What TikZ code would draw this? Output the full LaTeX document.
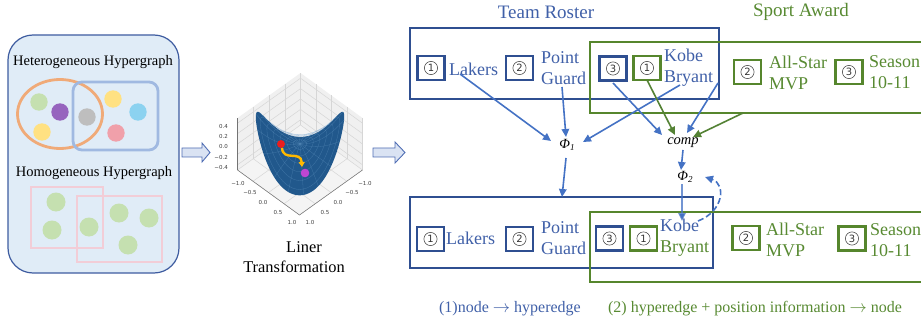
\documentclass[tikz,border=0pt]{standalone}
\usepackage{fontspec}
\setmainfont{Liberation Serif}
\newfontfamily\dvs{DejaVu Sans}
\usetikzlibrary{arrows.meta}
\definecolor{panelfill}{RGB}{224,236,247}
\definecolor{panelline}{RGB}{62,92,160}
\definecolor{tblue}{RGB}{64,96,168}
\definecolor{rblue}{RGB}{47,79,145}
\definecolor{tgreen}{RGB}{88,138,50}
\definecolor{rgreen}{RGB}{86,134,45}
\definecolor{ablue}{RGB}{68,114,196}
\definecolor{agreen}{RGB}{84,130,53}
\definecolor{orangeE}{RGB}{240,170,120}
\definecolor{blueE}{RGB}{160,185,225}
\definecolor{pinkE}{RGB}{242,205,215}
\definecolor{dgreen}{RGB}{197,224,176}
\definecolor{dpurple}{RGB}{150,100,190}
\definecolor{dyellow}{RGB}{255,225,130}
\definecolor{dgray}{RGB}{190,190,190}
\definecolor{dblue}{RGB}{140,210,240}
\definecolor{dpink}{RGB}{240,160,170}
\definecolor{arrfill}{RGB}{218,227,243}
\definecolor{arrline}{RGB}{80,110,180}
\definecolor{paneW}{RGB}{240,240,240}
\definecolor{paneF}{RGB}{244,244,244}
\definecolor{gridc}{RGB}{214,214,214}
\definecolor{surfc}{RGB}{33,88,140}
\definecolor{meshc}{RGB}{110,160,205}
\definecolor{trajc}{RGB}{255,185,0}
\definecolor{ptred}{RGB}{235,30,30}
\definecolor{ptpurple}{RGB}{190,70,210}
\pgfmathdeclarefunction{sz}{2}{\pgfmathparse{-(#1)*(#2)*(1.05-0.1*((#1)+(#2))*((#1)+(#2))-0.0707*((#1)+(#2)))}}
\newcommand\fHyp{\fontsize{14.5}{17}\selectfont}
\newcommand\fLin{\fontsize{16.4}{20}\selectfont}
\newcommand\fTit{\fontsize{19}{22}\selectfont}
\newcommand\fBot{\fontsize{16}{19}\selectfont}
\newcommand\fTick{\dvs\fontsize{5.5}{6}\selectfont}
\tikzset{
  numbox/.style={draw, line width=2.2pt, minimum width=27pt, minimum height=24pt, inner sep=0pt,
    font=\dvs\fontsize{10}{10}\selectfont, text=black!80,
    path picture={\draw[black!75, line width=0.55pt] (path picture bounding box.center) circle (6.6pt);}},
  bbx/.style={numbox, draw=rblue},
  gbx/.style={numbox, draw=rgreen},
  lbl/.style={anchor=west, inner sep=0pt, align=left, font=\fontsize{18}{21}\selectfont},
  bigrect/.style={draw, line width=2.2pt, inner sep=0pt},
  arr/.style={line width=1.6pt, -{Triangle[length=8pt,width=7.5pt]}},
  blockarrow/.style={fill=arrfill, draw=arrline, line width=0.9pt, line join=miter},
  gridl/.style={gridc, line width=0.5pt},
  meshl/.style={meshc, line width=0.3pt, opacity=0.4},
  tick/.style={font=\fTick, text=black!75, inner sep=0pt}
}
\begin{document}
\begin{tikzpicture}[x=1pt,y=-1pt]
\useasboundingbox (0,0) rectangle (921,326);
\clip (0,0) rectangle (921,326);

% ---------- left panel ----------
\draw[panelline, fill=panelfill, line width=1.2pt, rounded corners=25pt] (8,35) rectangle (179,273);
\node[font=\fHyp] (het) at (93,62) {Heterogeneous Hypergraph};
\draw[orangeE, line width=2.8pt] (60,114) ellipse [x radius=42.5, y radius=34.5];
\draw[blueE, line width=2.8pt, rounded corners=9pt] (73,82) rectangle (158,150);
\fill[dgreen]  (39,102) circle (8.7);
\fill[dpurple] (60,112) circle (8.7);
\fill[dyellow] (42,132) circle (8.7);
\fill[dgray]   (87,117) circle (8.7);
\fill[dyellow] (113,99) circle (8.7);
\fill[dblue]   (138,112) circle (8.7);
\fill[dpink]   (116,133) circle (8.7);
\node[font=\fHyp] (hom) at (94,173) {Homogeneous Hypergraph};
\draw[pinkE, line width=2.5pt] (31,187) rectangle (103,248);
\draw[pinkE, line width=2.5pt] (77,196) rectangle (162,262);
\fill[dgreen] (56,202) circle (9.5);
\fill[dgreen] (52,230) circle (9.5);
\fill[dgreen] (89,227) circle (9.5);
\fill[dgreen] (119,213) circle (9.5);
\fill[dgreen] (149,218) circle (9.5);
\fill[dgreen] (128,245) circle (9.5);

% ---------- block arrows ----------
\draw[blockarrow] (182,148) -- (202,148) -- (202,143) -- (210,152.5) -- (202,162) -- (202,157) -- (182,157) -- cycle;
\draw[blockarrow] (373,148) -- (395,148) -- (395,142) -- (405,152.5) -- (395,163) -- (395,157) -- (373,157) -- cycle;

% ---------- 3D plot ----------
\begin{scope}[shift={(300,144)}, x={(31pt,-22.5pt)}, y={(-31.5pt,-22.5pt)}, z={(0pt,52pt)}]
  \fill[paneW] (-1,1,-0.5) -- (-1,-1,-0.5) -- (-1,-1,0.5) -- (-1,1,0.5) -- cycle;
  \fill[paneW] (-1,-1,-0.5) -- (1,-1,-0.5) -- (1,-1,0.5) -- (-1,-1,0.5) -- cycle;
  \fill[paneF] (-1,-1,-0.5) -- (1,-1,-0.5) -- (1,1,-0.5) -- (-1,1,-0.5) -- cycle;
  \foreach \v in {-1,-0.5,0,0.5,1}{
    \draw[gridl] (-1,\v,-0.5) -- (-1,\v,0.5);
    \draw[gridl] (\v,-1,-0.5) -- (\v,-1,0.5);
    \draw[gridl] (\v,-1,-0.5) -- (\v,1,-0.5);
    \draw[gridl] (-1,\v,-0.5) -- (1,\v,-0.5);
  }
  \foreach \w in {-0.4,-0.2,0,0.2,0.4}{
    \draw[gridl] (-1,-1,\w) -- (-1,1,\w);
    \draw[gridl] (-1,-1,\w) -- (1,-1,\w);
  }
  \draw[black!55, line width=0.5pt] (-1,1,-0.5) -- (1,1,-0.5) -- (1,-1,-0.5);
  \draw[black!55, line width=0.5pt] (-1,1,-0.5) -- (-1,1,0.5);
  \fill[surfc] plot[domain=0:360, samples=121, variable=\t] ({cos(\t)},{sin(\t)},{sz(cos(\t),sin(\t))}) -- cycle;
  \foreach \r in {0.15,0.3,0.45,0.6,0.75,0.9}{
    \draw[meshl] plot[domain=0:360, samples=73, variable=\t] ({\r*cos(\t)},{\r*sin(\t)},{sz(\r*cos(\t),\r*sin(\t))});
  }
  \foreach \a in {0,20,...,340}{
    \draw[meshl] plot[domain=0:1, samples=11, variable=\s] ({\s*cos(\a)},{\s*sin(\a)},{sz(\s*cos(\a),\s*sin(\a))});
  }
\end{scope}
\node[tick] (xl1) at (238,183) {−1.0};
\node[tick] (xl2) at (250,192) {−0.5};
\node[tick] (xl3) at (263,202) {0.0};
\node[tick] (xl4) at (278,212) {0.5};
\node[tick] (xl5) at (292,222) {1.0};
\node[tick] (yl1) at (365,183) {−1.0};
\node[tick] (yl2) at (352,192) {−0.5};
\node[tick] (yl3) at (338,202) {0.0};
\node[tick] (yl4) at (325,212) {0.5};
\node[tick] (yl5) at (310,222) {1.0};
\node[tick, anchor=east] (zl1) at (228,126) {0.4};
\node[tick, anchor=east] (zl2) at (228,136) {0.2};
\node[tick, anchor=east] (zl3) at (228,146) {0.0};
\node[tick, anchor=east] (zl4) at (228,157) {−0.2};
\node[tick, anchor=east] (zl5) at (228,167) {−0.4};
\fill[ptred] (281,144) circle (4);
\fill[ptpurple] (305,173) circle (4.3);
\coordinate (trajA) at (282,148);
\coordinate (trajB) at (302,167);
\draw[trajc, line width=2.4pt, -{Triangle[length=5pt,width=6pt]}] (trajA) .. controls (283,162) and (301,150) .. (trajB);
\node[font=\fLin] (liner) at (304,247) {Liner};
\node[font=\fLin] (trans) at (294,267) {Transformation};

% ---------- right part: titles ----------
\node[font=\fTit, text=tblue] (teamT) at (546,12) {Team Roster};
\node[font=\fTit, text=tgreen] (sportT) at (801,12) {Sport Award};

% ---------- top row ----------
\node[bigrect, draw=rblue, minimum width=309pt, minimum height=71pt] (topBlue) at (564.5,63.5) {};
\node[bigrect, draw=rgreen, minimum width=340pt, minimum height=71pt] (topGreen) at (760,77.5) {};
\node[bbx] (t1) at (431,68) {1};
\node[lbl, text=tblue] (tLak) at (449,69) {Lakers};
\node[bbx] (t2) at (519.5,68) {2};
\node[lbl, text=tblue] (tPG) at (541,68) {Point\\Guard};
\node[bbx] (t3) at (613,68.5) {3};
\node[gbx] (t4) at (647,68) {1};
\node[lbl, text=tblue] (tKB) at (664,68) {Kobe\\Bryant};
\node[gbx] (t5) at (747.5,72) {2};
\node[lbl, text=tgreen] (tAS) at (769,72.5) {All-Star\\MVP};
\node[gbx] (t6) at (849,72) {3};
\node[lbl, text=tgreen] (tSe) at (869,72.5) {Season\\10-11};

% ---------- bottom row ----------
\node[bigrect, draw=rblue, minimum width=303pt, minimum height=71pt] (botBlue) at (561.5,232.5) {};
\node[bigrect, draw=rgreen, minimum width=340pt, minimum height=70pt] (botGreen) at (760,247) {};
\node[bbx] (b1) at (430.5,239) {1};
\node[lbl, text=tblue] (bLak) at (446,238) {Lakers};
\node[bbx] (b2) at (519.5,239) {2};
\node[lbl, text=tblue] (bPG) at (541,238) {Point\\Guard};
\node[bbx] (b3) at (609.5,238.5) {3};
\node[gbx] (b4) at (643.5,238.5) {1};
\node[lbl] (bKB) at (660,238) {\textcolor{tblue}{Kobe}\\\textcolor{tgreen}{Bryant}};
\node[gbx] (b5) at (746,238) {2};
\node[lbl, text=tgreen] (bAS) at (766,240) {All-Star\\MVP};
\node[gbx] (b6) at (852,238.5) {3};
\node[lbl, text=tgreen] (bSe) at (870,240) {Season\\10-11};

% ---------- middle nodes ----------
\node[font=\fontsize{14}{14}\selectfont, inner sep=1pt] (phi1) at (567,145) {\itshape Φ\kern0.3pt\raisebox{-2.5pt}{\fontsize{9}{9}\selectfont 1}};
\node[font=\itshape\fontsize{14.5}{15}\selectfont, inner sep=1pt] (comp) at (683,143) {comp};
\node[font=\fontsize{14}{14}\selectfont, inner sep=1pt] (phi2) at (685,177) {\itshape Φ\kern0.3pt\raisebox{-2.5pt}{\fontsize{9}{9}\selectfont 2}};

% ---------- connector end points ----------
\coordinate (sLak) at (460,74);
\coordinate (sPG) at (562,87);
\coordinate (sKB) at (680,85);
\coordinate (sT3) at (613,83);
\coordinate (sT4) at (647,80);
\coordinate (sTB) at (718,83);
\coordinate (sTG) at (743,113);
\coordinate (eP1a) at (551,141);
\coordinate (eP1b) at (566,137);
\coordinate (eP1c) at (583,142);
\coordinate (eCa) at (662,135);
\coordinate (eCb) at (675,135);
\coordinate (eCc) at (687,133);
\coordinate (eCd) at (693,137);
\coordinate (sC) at (683,150);
\coordinate (eP2) at (681,170);
\coordinate (sP1) at (566,158);
\coordinate (eBB) at (562,197);
\coordinate (sP2) at (682,184);
\coordinate (eKB) at (682,221);
\coordinate (sDash) at (698,221);
\coordinate (eDash) at (705,177);

\draw[arr, ablue] (sLak) -- (eP1a);
\draw[arr, ablue] (sPG) -- (eP1b);
\draw[arr, ablue] (sKB) -- (eP1c);
\draw[arr, ablue] (sT3) -- (eCa);
\draw[arr, agreen] (sT4) -- (eCb);
\draw[arr, ablue] (sTB) -- (eCc);
\draw[arr, agreen] (sTG) -- (eCd);
\draw[arr, ablue] (sC) -- (eP2);
\draw[arr, ablue] (sP1) -- (eBB);
\draw[arr, ablue, draw opacity=0.75] (sP2) -- (eKB);
\draw[arr, ablue, dashed, dash pattern=on 6pt off 3pt] (sDash) .. controls (724,211) and (726,184) .. (eDash);

% ---------- bottom captions ----------
\node[font=\fBot, text=tblue] (cap1) at (510,309) {(1)node $\rightarrow$ hyperedge};
\node[font=\fBot, text=tgreen] (cap2) at (755,309) {(2) hyperedge + position information $\rightarrow$ node};
\end{tikzpicture}
\end{document}
